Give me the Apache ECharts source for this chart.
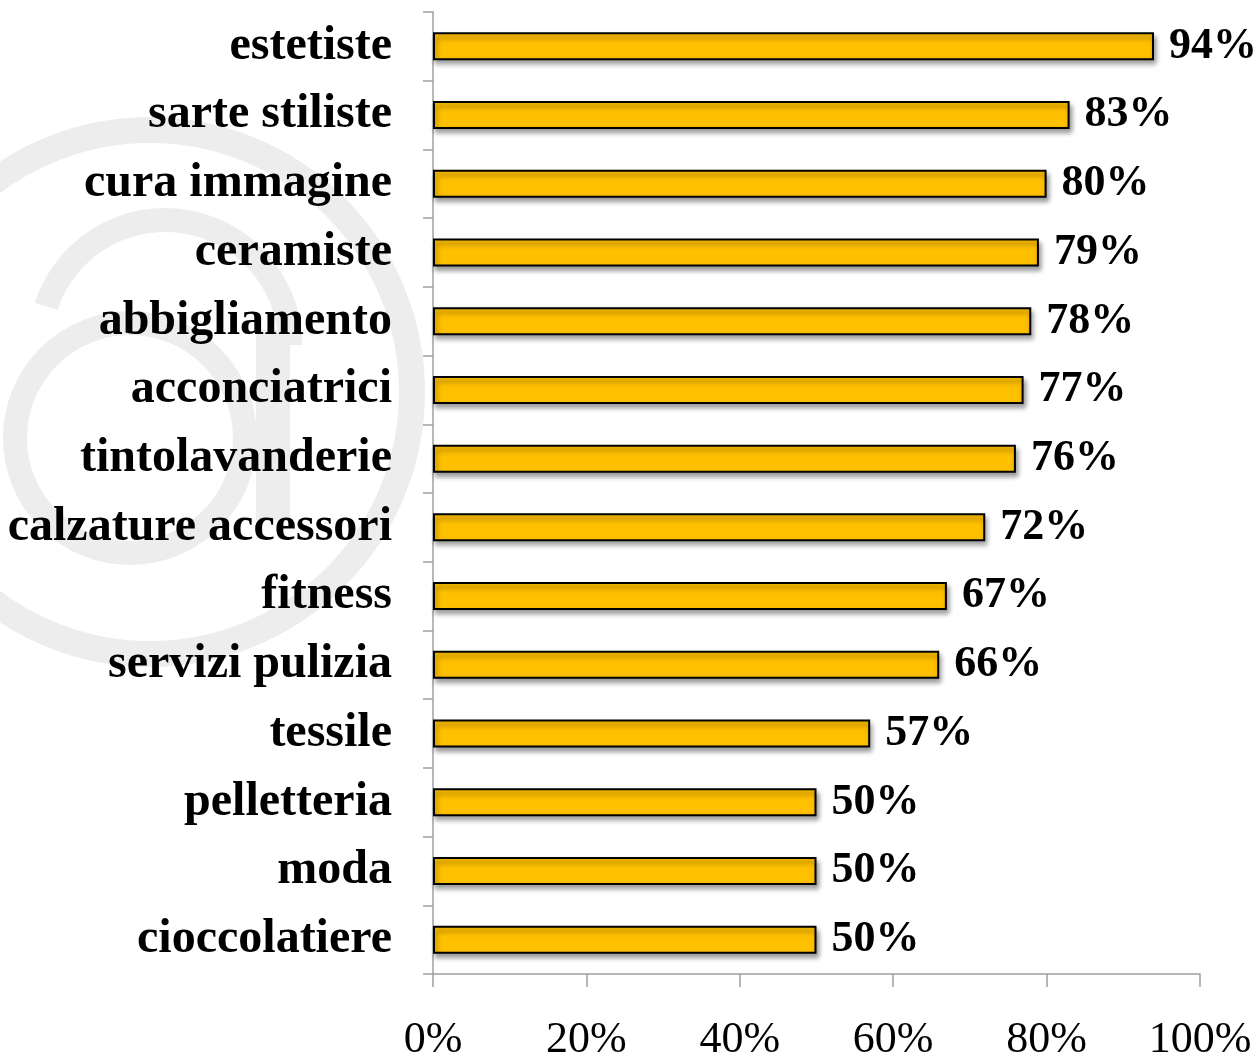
<!DOCTYPE html>
<html>
<head>
<meta charset="utf-8">
<script src="https://cdn.jsdelivr.net/npm/echarts@6/dist/echarts.min.js"></script>
<style>
html,body{margin:0;padding:0;background:#fff;}
#chart{width:1257px;height:1062px;}
</style>
</head>
<body>
<div id="chart"></div>
<script>
const categories = ['estetiste','sarte stiliste','cura immagine','ceramiste','abbigliamento','acconciatrici','tintolavanderie','calzature accessori','fitness','servizi pulizia','tessile','pelletteria','moda','cioccolatiere'];
const values = [94, 83, 80, 79, 78, 77, 76, 72, 67, 66, 57, 50, 50, 50];
const xTicks = [0, 20, 40, 60, 80, 100];

const FONT = '"Liberation Serif", "DejaVu Serif", serif';
const WM = '#ededed';

const chart = echarts.init(document.getElementById('chart'), null, {renderer: 'canvas'});
chart.setOption({
  animation: false,
  backgroundColor: '#ffffff',
  graphic: [
    {type: 'circle', z: -10, silent: true, shape: {cx: 150, cy: 392, r: 262}, style: {fill: null, stroke: WM, lineWidth: 26}},
    {type: 'arc', z: -10, silent: true, shape: {cx: 165, cy: 345, r: 125, startAngle: Math.PI * 1.1, endAngle: Math.PI * 2}, style: {fill: null, stroke: WM, lineWidth: 24}},
    {type: 'rect', z: -10, silent: true, shape: {x: 256, y: 330, width: 34, height: 190}, style: {fill: WM}},
    {type: 'circle', z: -10, silent: true, shape: {cx: 130, cy: 438, r: 115}, style: {fill: null, stroke: WM, lineWidth: 24}}
  ],
  grid: {left: 433, right: 57, top: 12, bottom: 86, containLabel: false},
  xAxis: {
    type: 'value', min: 0, max: 100, interval: 20,
    axisLine: {show: true, lineStyle: {color: '#a0a0a0', width: 1.5}},
    axisTick: {show: true, length: 13, lineStyle: {color: '#a0a0a0', width: 1.5}},
    splitLine: {show: false},
    axisLabel: {
      margin: 44, color: '#000', fontSize: 44, fontFamily: FONT, fontWeight: 'normal',
      formatter: v => xTicks.includes(v) ? v + '%' : ''
    }
  },
  yAxis: {
    type: 'category', data: categories, inverse: true,
    axisLine: {show: true, lineStyle: {color: '#a0a0a0', width: 1.5}},
    axisTick: {show: true, length: 10, lineStyle: {color: '#a0a0a0', width: 1.5}},
    axisLabel: {margin: 41, color: '#000', fontSize: 48, fontWeight: 'bold', fontFamily: FONT}
  },
  series: [{
    type: 'bar',
    data: values,
    barWidth: 28,
    itemStyle: {
      color: '#FFC000', borderColor: '#000', borderWidth: 2,
      shadowColor: 'rgba(0,0,0,0.4)', shadowBlur: 5, shadowOffsetX: 2, shadowOffsetY: 4
    },
    label: {
      show: true, position: 'right', distance: 15,
      formatter: p => p.value + '%',
      color: '#000', fontSize: 44, fontWeight: 'bold', fontFamily: FONT
    }
  }]
});
</script>
</body>
</html>
